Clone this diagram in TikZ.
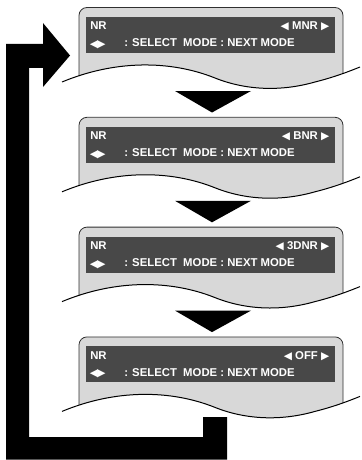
\documentclass[tikz,border=0pt]{standalone}
\usepackage{fontspec}
\setmainfont{Liberation Sans}
\newfontfamily\symfont{DejaVu Sans}
\definecolor{panelgray}{HTML}{D8D8D8}
\definecolor{bandgray}{HTML}{484848}
\definecolor{edgegray}{HTML}{303030}
\newcommand{\tri}[1]{{\symfont\fontsize{8}{10}\selectfont #1}}
\begin{document}
\begin{tikzpicture}[x=0.75pt,y=-0.75pt,
  panelbox/.style={fill=panelgray,draw=edgegray,line width=0.6pt,rounded corners=6pt},
  waveline/.style={draw=black,line width=0.75pt},
  band/.style={fill=bandgray,draw=none,minimum width=186.75pt,minimum height=27pt,inner sep=0pt},
  lbl/.style={text=white,font=\bfseries\fontsize{8.5}{10}\selectfont,inner sep=0pt},
  sym/.style={text=white,font=\symfont\fontsize{8}{10}\selectfont,inner sep=0pt},
  downtri/.style={fill=black},
  looparrow/.style={fill=black}]
\useasboundingbox (0,0) rectangle (361,460);
\foreach \k/\m in {0/MNR,1/BNR,2/3DNR,3/OFF} {
  \begin{scope}[shift={(0,\k*109.8)}]
    \begin{scope}
      \clip (62,82) .. controls (115,60) and (170,60) .. (215,78)
        .. controls (245,90) and (280,92) .. (315,82)
        .. controls (335,77) and (350,71) .. (362,66) -- (362,0) -- (62,0) -- cycle;
      \draw[panelbox] (79,7.5) rectangle (343,110);
    \end{scope}
    \draw[waveline] (62,82) .. controls (115,60) and (170,60) .. (215,78)
        .. controls (245,90) and (280,92) .. (315,82)
        .. controls (335,77) and (350,71) .. (360,67);
    \node[band] (band\k) at (210.5,35) {};
    \node[lbl,anchor=base west] (nr\k) at (90,30) {NR};
    \node[lbl,anchor=base east] (mode\k) at (329.5,30) {\tri{◀} \m\ \tri{▶}};
    \node[sym,anchor=base west] (keys\k) at (89.5,47.5) {◀\kern-0.5pt▶};
    \node[lbl,anchor=base west] (help\k) at (124,47) {: SELECT\ \ MODE : NEXT MODE};
  \end{scope}
}
\foreach \k in {0,1,2} {
  \fill[downtri] (175,{91+\k*109.8}) -- (251,{91+\k*109.8}) -- (212,{112.5+\k*109.8}) -- cycle;
}
\fill[looparrow] (6,459.5) -- (227,459.5) -- (227,417) -- (203,417) -- (203,437)
  -- (29,437) -- (29,68) -- (43,68) -- (43,87) -- (70,55.5) -- (43,23) -- (43,44)
  -- (6,44) -- cycle;
\end{tikzpicture}
\end{document}
